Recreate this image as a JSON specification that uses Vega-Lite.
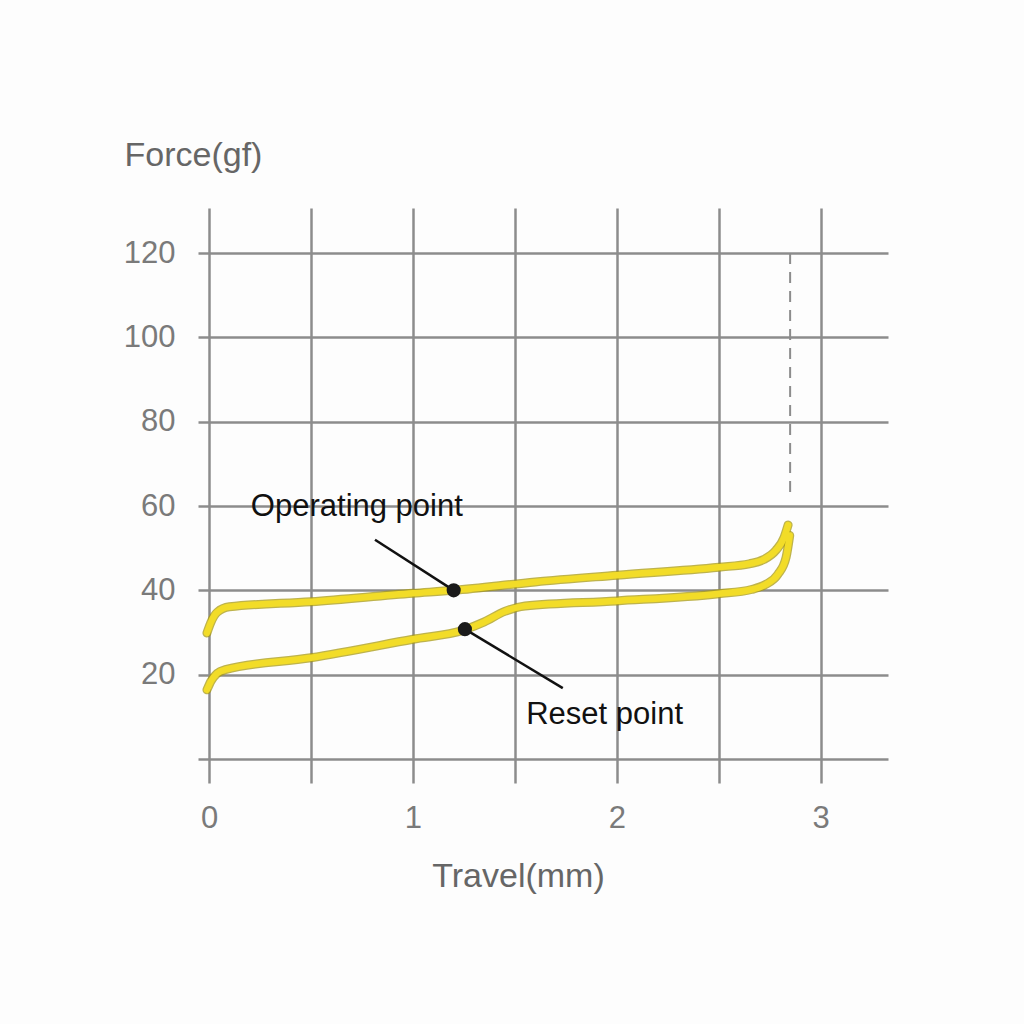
{
  "$schema": "https://vega.github.io/schema/vega-lite/v6.json",
  "width": 690,
  "height": 575,
  "autosize": "none",
  "padding": {"left": 198, "top": 208, "right": 136, "bottom": 241},
  "background": "#fdfdfd",
  "config": {
    "view": {"stroke": null},
    "font": "Liberation Sans",
    "axis": {
      "domain": false,
      "ticks": false,
      "grid": true,
      "gridColor": "#8c8c8c",
      "gridWidth": 2.5,
      "labelFont": "Liberation Sans",
      "labelFontSize": 31,
      "labelColor": "#7a7a7a",
      "titleFont": "Liberation Sans",
      "titleFontSize": 34,
      "titleFontWeight": "normal",
      "titleColor": "#666666",
      "labelFlush": false,
      "labelOverlap": false
    }
  },
  "datasets": {
    "curves": [
      {"curve": "operate", "order": 1, "travel": -0.01, "force": 29.9},
      {"curve": "operate", "order": 2, "travel": 0.01, "force": 32.5},
      {"curve": "operate", "order": 3, "travel": 0.04, "force": 34.8},
      {"curve": "operate", "order": 4, "travel": 0.1, "force": 36.1},
      {"curve": "operate", "order": 5, "travel": 0.5, "force": 37.3},
      {"curve": "operate", "order": 6, "travel": 1.0, "force": 39.3},
      {"curve": "operate", "order": 7, "travel": 1.2, "force": 40.0},
      {"curve": "operate", "order": 8, "travel": 1.6, "force": 42.0},
      {"curve": "operate", "order": 9, "travel": 2.0, "force": 43.6},
      {"curve": "operate", "order": 10, "travel": 2.5, "force": 45.5},
      {"curve": "operate", "order": 11, "travel": 2.65, "force": 46.3},
      {"curve": "operate", "order": 12, "travel": 2.72, "force": 47.3},
      {"curve": "operate", "order": 13, "travel": 2.78, "force": 49.5},
      {"curve": "operate", "order": 14, "travel": 2.82, "force": 52.5},
      {"curve": "operate", "order": 15, "travel": 2.84, "force": 55.5},
      {"curve": "reset", "order": 1, "travel": -0.01, "force": 16.4},
      {"curve": "reset", "order": 2, "travel": 0.01, "force": 18.5},
      {"curve": "reset", "order": 3, "travel": 0.04, "force": 20.3},
      {"curve": "reset", "order": 4, "travel": 0.08, "force": 21.2},
      {"curve": "reset", "order": 5, "travel": 0.5, "force": 24.0},
      {"curve": "reset", "order": 6, "travel": 1.0, "force": 28.4},
      {"curve": "reset", "order": 7, "travel": 1.25, "force": 30.6},
      {"curve": "reset", "order": 8, "travel": 1.35, "force": 32.5},
      {"curve": "reset", "order": 9, "travel": 1.45, "force": 35.0},
      {"curve": "reset", "order": 10, "travel": 1.55, "force": 36.3},
      {"curve": "reset", "order": 11, "travel": 2.0, "force": 37.5},
      {"curve": "reset", "order": 12, "travel": 2.5, "force": 39.2},
      {"curve": "reset", "order": 13, "travel": 2.66, "force": 40.2},
      {"curve": "reset", "order": 14, "travel": 2.73, "force": 41.4},
      {"curve": "reset", "order": 15, "travel": 2.79, "force": 43.8},
      {"curve": "reset", "order": 16, "travel": 2.83, "force": 47.8},
      {"curve": "reset", "order": 17, "travel": 2.848, "force": 53.0}
    ],
    "marks": [
      {"name": "Operating point", "travel": 1.2, "force": 40.0, "travel2": 0.814, "force2": 52.0, "labelX": 0.725, "labelY": 59.8},
      {"name": "Reset point", "travel": 1.255, "force": 30.8, "travel2": 1.735, "force2": 16.8, "labelX": 1.94, "labelY": 10.4}
    ],
    "stroke": [
      {"travel": 2.85, "force": 120, "force2": 62}
    ]
  },
  "encoding": {
    "x": {
      "field": "travel",
      "type": "quantitative",
      "scale": {"domain": [-0.054, 3.33], "nice": false, "zero": false},
      "axis": {
        "values": [0, 0.5, 1, 1.5, 2, 2.5, 3],
        "format": "~g",
        "labelExpr": "datum.value % 1 === 0 ? datum.label : ''",
        "labelBaseline": "middle",
        "labelPadding": 35,
        "title": "Travel(mm)",
        "titleX": 320,
        "titleY": 93,
        "titleBaseline": "middle",
        "titleAlign": "center"
      }
    },
    "y": {
      "field": "force",
      "type": "quantitative",
      "scale": {"domain": [-5.7, 130.7], "nice": false, "zero": false},
      "axis": {
        "values": [0, 20, 40, 60, 80, 100, 120],
        "labelExpr": "datum.value === 0 ? '' : datum.label",
        "labelPadding": 23,
        "title": "Force(gf)",
        "titleAngle": 0,
        "titleX": -74,
        "titleY": -53,
        "titleAlign": "left",
        "titleBaseline": "middle"
      }
    }
  },
  "layer": [
    {
      "data": {"name": "stroke"},
      "mark": {"type": "rule", "color": "#8c8c8c", "strokeWidth": 2, "strokeDash": [11, 8]},
      "encoding": {"y2": {"field": "force2"}}
    },
    {
      "data": {"name": "curves"},
      "mark": {"type": "line", "color": "#a89a10", "strokeWidth": 9, "interpolate": "monotone", "strokeCap": "round", "opacity": 0.75},
      "encoding": {"detail": {"field": "curve"}, "order": {"field": "order"}}
    },
    {
      "data": {"name": "curves"},
      "mark": {"type": "line", "color": "#f2dc28", "strokeWidth": 6.5, "interpolate": "monotone", "strokeCap": "round"},
      "encoding": {"detail": {"field": "curve"}, "order": {"field": "order"}}
    },
    {
      "data": {"name": "marks"},
      "mark": {"type": "rule", "color": "#111111", "strokeWidth": 2.5},
      "encoding": {"x2": {"field": "travel2"}, "y2": {"field": "force2"}}
    },
    {
      "data": {"name": "marks"},
      "mark": {"type": "circle", "color": "#1a1a1a", "opacity": 1, "size": 200},
      "encoding": {}
    },
    {
      "data": {"name": "marks"},
      "mark": {"type": "text", "fontSize": 31, "color": "#111111", "align": "center", "baseline": "middle"},
      "encoding": {
        "x": {"field": "labelX", "type": "quantitative"},
        "y": {"field": "labelY", "type": "quantitative"},
        "text": {"field": "name"}
      }
    }
  ]
}
